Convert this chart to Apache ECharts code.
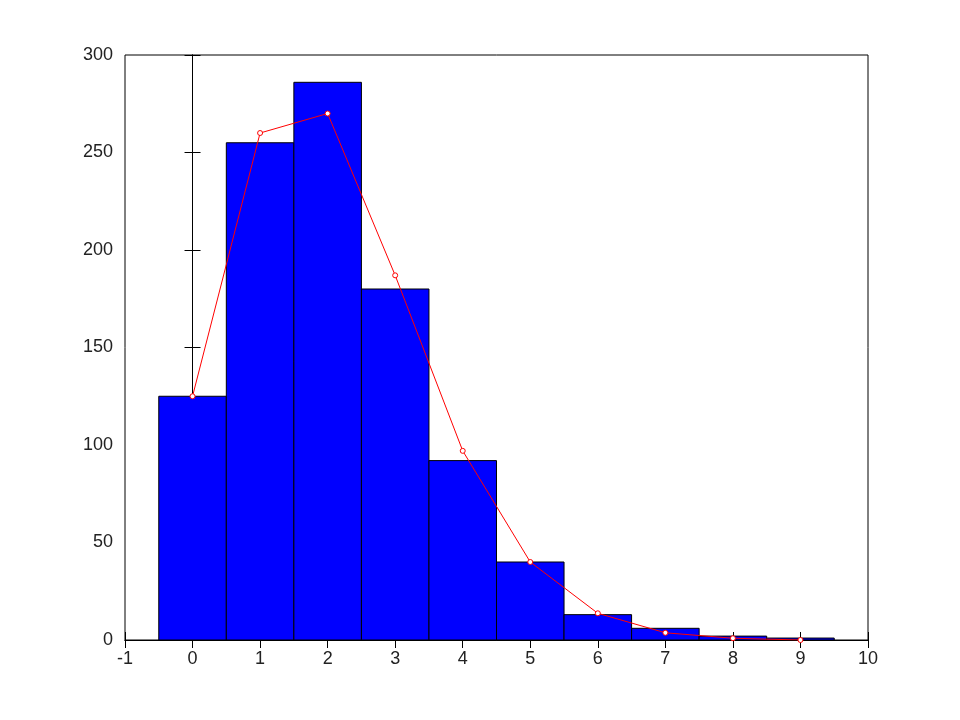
<!DOCTYPE html>
<html><head><meta charset="utf-8">
<script src="https://cdn.jsdelivr.net/npm/echarts@6/dist/echarts.min.js"></script>
</head><body style="margin:0;background:#fff">
<div id="c" style="width:960px;height:720px"></div>
<script>
var categories = [0,1,2,3,4,5,6,7,8,9];
var counts = [125,255,286,180,92,40,13,6,2,1];
var expected = [125,260,270,187,97,40,13.7,3.7,0.9,0];
var chart = echarts.init(document.getElementById('c'));
var ax = {type:'value', axisLine:{lineStyle:{color:'#000'}}, axisTick:{inside:true,length:8,lineStyle:{color:'#000'}}, splitLine:{show:false}};
chart.setOption({
  animation:false,
  grid:{left:125,right:92,top:55,bottom:80,show:true,borderColor:'#000',borderWidth:1},
  xAxis:[Object.assign({min:-1,max:10,interval:1,position:'bottom',axisLabel:{fontSize:18,color:'#222',fontFamily:'Liberation Sans',margin:10}},ax),
         Object.assign({min:-1,max:10,interval:1,position:'top',axisLabel:{show:false}},ax)],
  yAxis:[Object.assign({min:0,max:300,interval:50,position:'left',axisLabel:{fontSize:18,color:'#222',fontFamily:'Liberation Sans',margin:12}},ax),
         Object.assign({min:0,max:300,interval:50,position:'right',axisLabel:{show:false}},ax)],
  series:[
    {type:'custom', data:categories.map(function(c,i){return [c,counts[i]];}),
     renderItem:function(params,api){
       var x=api.value(0), y=api.value(1);
       var p0=api.coord([x-0.5,y]), p1=api.coord([x+0.5,0]);
       return {type:'rect',shape:{x:p0[0],y:p0[1],width:p1[0]-p0[0],height:p1[1]-p0[1]},
               style:{fill:'#0000ff',stroke:'#000',lineWidth:1}};
     }, z:2},
    {type:'line', data:categories.map(function(c,i){return [c,expected[i]];}),
     symbol:'circle', symbolSize:5, itemStyle:{color:'#fff',borderColor:'#ff0000',borderWidth:1},
     lineStyle:{color:'#ff0000',width:1}, z:3}
  ]
});
</script></body></html>
